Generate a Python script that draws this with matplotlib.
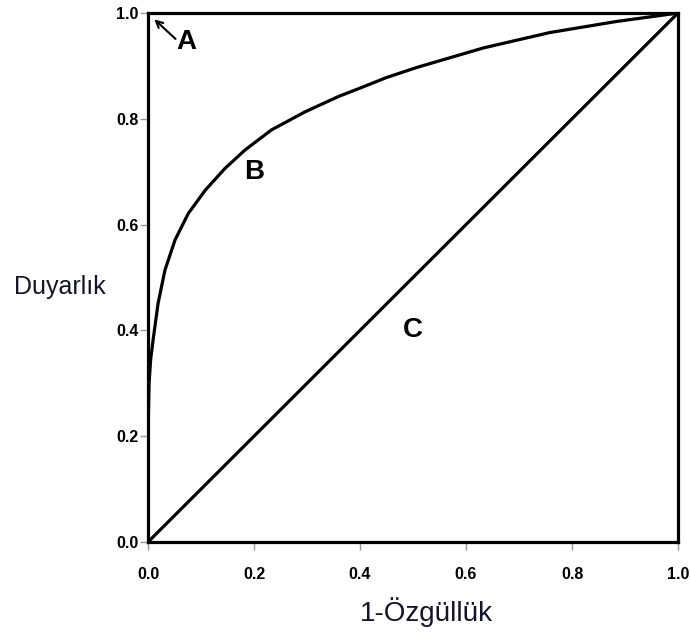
#!/usr/bin/env python3

import matplotlib
matplotlib.use('Agg')
import matplotlib.pyplot as plt

# curve B
b_x = [0.0, 0.002, 0.005, 0.010, 0.019, 0.032, 0.051, 0.076, 0.108, 0.145, 0.183,
       0.233, 0.296, 0.359, 0.40, 0.45, 0.507, 0.633, 0.758, 0.884, 0.979, 1.0]
b_y = [0.20, 0.30, 0.345, 0.385, 0.451, 0.514, 0.571, 0.621, 0.665, 0.706, 0.741,
       0.779, 0.813, 0.842, 0.858, 0.878, 0.897, 0.934, 0.963, 0.984, 0.997, 1.0]

# curve C: chance line
c_x = [0.0, 1.0]
c_y = [0.0, 1.0]

ticks = [0.0, 0.2, 0.4, 0.6, 0.8, 1.0]
tick_labels = ['0.0', '0.2', '0.4', '0.6', '0.8', '1.0']

plt.rcParams['font.family'] = ['Liberation Sans', 'DejaVu Sans']

fig = plt.figure(figsize=(6.9, 6.33), dpi=100)
ax = fig.add_axes([148 / 690, 91 / 633, 530 / 690, 529 / 633])

ax.plot(b_x, b_y, '-', color='black', linewidth=2.3, solid_joinstyle='round')
ax.plot(c_x, c_y, '-', color='black', linewidth=2.3, solid_capstyle='butt')

ax.set_xlim(0, 1)
ax.set_ylim(0, 1)
ax.set_xticks(ticks)
ax.set_yticks(ticks)
ax.set_xticklabels(tick_labels, fontweight='bold', fontsize=11.5)
ax.set_yticklabels(tick_labels, fontweight='bold', fontsize=11.5)
ax.tick_params(direction='out', length=6, width=1, color='#999999')
ax.tick_params(axis='x', pad=12)
ax.tick_params(axis='y', pad=1)

for s in ax.spines.values():
    s.set_linewidth(2.3)
    s.set_color('black')

ax.text(0.2, 0.70, 'B', fontsize=20, fontweight='bold', ha='center', va='center')
ax.text(0.5, 0.40, 'C', fontsize=20, fontweight='bold', ha='center', va='center')
ax.text(0.072, 0.946, 'A', fontsize=20, fontweight='bold', ha='center', va='center')
ax.annotate('', xy=(0.012, 0.988), xytext=(0.052, 0.951),
            arrowprops=dict(arrowstyle='->', color='black', lw=1.5,
                            shrinkA=0, shrinkB=0, mutation_scale=12))

fig.text(60 / 690, 1 - 287 / 633, 'Duyarlık', fontsize=18, ha='center', va='center',
         color='#14142a')
fig.text(426 / 690, 1 - 612 / 633, '1-Özgüllük', fontsize=20, ha='center', va='center',
         color='#14142a')

fig.savefig('out.png', dpi=100)
